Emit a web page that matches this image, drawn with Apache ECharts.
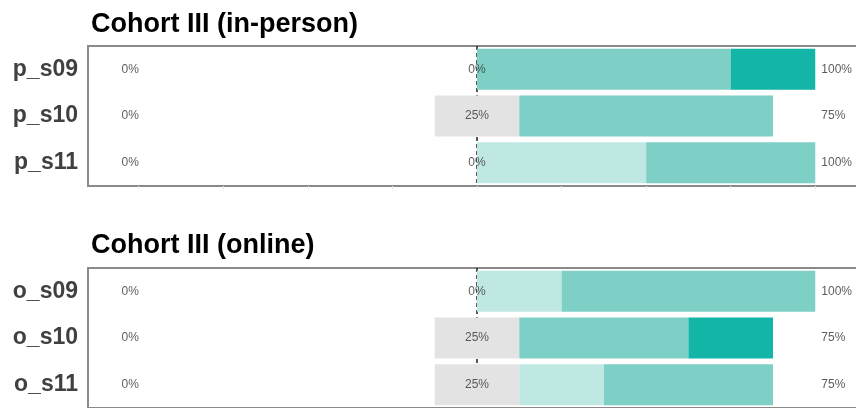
<!DOCTYPE html>
<html>
<head>
<meta charset="utf-8">
<script src="https://cdn.jsdelivr.net/npm/echarts@6/dist/echarts.min.js"></script>
<style>
html,body{margin:0;padding:0;background:#fff;}
#c{width:856px;height:408px;}
</style>
</head>
<body>
<div id="c"></div>
<script>
// ---- data ----
const titles = ['Cohort III (in-person)', 'Cohort III (online)'];
const categories1 = ['p_s09', 'p_s10', 'p_s11'];
const categories2 = ['o_s09', 'o_s10', 'o_s11'];
const levels = ['Disagree', 'Neutral', 'Somewhat agree', 'Agree', 'Strongly agree'];
// panel 1 (in-person), percentages
const disagree1 = [0, 0, 0];
const neutral1 = [0, 25, 0];
const somewhat1 = [0, 0, 50];
const agree1 = [75, 75, 50];
const strong1 = [25, 0, 0];
// panel 2 (online)
const disagree2 = [0, 0, 0];
const neutral2 = [0, 25, 25];
const somewhat2 = [25, 0, 25];
const agree2 = [75, 50, 50];
const strong2 = [0, 25, 0];
const tickValues = [-100, -75, -50, -25, 0, 25, 50, 75, 100];

// ---- styling ----
const COL_NEUTRAL = '#e3e3e3';
const COL_SOME = '#c0e8e3';
const COL_AGREE = '#7ecfc6';
const COL_STRONG = '#13b5a7';
const FONT = 'Liberation Sans, Arial, Helvetica, sans-serif';
const LEFT_LABEL_X = -102.5, RIGHT_LABEL_X = 101.8;

const grids = [
  {left: 88, right: -10, top: 46, height: 140},
  {left: 88, right: -10, top: 268, height: 140}
];

function panel(idx, cats, dis, neu, some, agr, str) {
  const series = [];
  const common = {type: 'bar', xAxisIndex: idx, yAxisIndex: idx, stack: 'p' + idx, barWidth: 41, z: 3, silent: true};
  series.push(Object.assign({}, common, {name: levels[1] + ' L', data: neu.map(v => -v / 2), itemStyle: {color: COL_NEUTRAL}}));
  series.push(Object.assign({}, common, {name: levels[1] + ' R', data: neu.map(v => v / 2), itemStyle: {color: COL_NEUTRAL}}));
  series.push(Object.assign({}, common, {name: levels[2], data: some, itemStyle: {color: COL_SOME}}));
  series.push(Object.assign({}, common, {name: levels[3], data: agr, itemStyle: {color: COL_AGREE}}));
  series.push(Object.assign({}, common, {name: levels[4], data: str, itemStyle: {color: COL_STRONG}}));
  // zero line
  series.push({
    type: 'scatter', xAxisIndex: idx, yAxisIndex: idx, data: [], z: 1, silent: true,
    markLine: {
      z: 1, silent: true, symbol: 'none', label: {show: false},
      lineStyle: {color: '#222', type: [4, 3], width: 1.5},
      data: [{xAxis: 0}]
    }
  });
  const lbl = {show: true, position: 'inside', fontSize: 12, color: '#333', fontFamily: FONT};
  // left (negative) labels
  series.push({
    type: 'scatter', xAxisIndex: idx, yAxisIndex: idx, symbolSize: 0, z: 5, silent: true,
    data: dis.map((v, i) => ({value: [LEFT_LABEL_X, i], label: Object.assign({}, lbl, {formatter: v + '%'})}))
  });
  // neutral labels at centre
  series.push({
    type: 'scatter', xAxisIndex: idx, yAxisIndex: idx, symbolSize: 0, z: 5, silent: true,
    data: neu.map((v, i) => ({value: [0, i], label: Object.assign({}, lbl, {formatter: v + '%'})}))
  });
  // right (positive) labels
  series.push({
    type: 'scatter', xAxisIndex: idx, yAxisIndex: idx, symbolSize: 0, z: 5, silent: true,
    data: some.map((v, i) => ({value: [RIGHT_LABEL_X, i], label: Object.assign({}, lbl, {align: 'left', position: 'right', distance: 0, formatter: (v + agr[i] + str[i]) + '%'})}))
  });
  return series;
}

const xAxes = [0, 1].map(i => ({
  type: 'value', gridIndex: i, min: -115, max: 115,
  axisLine: {show: false},
  axisLabel: {show: false},
  splitLine: {show: false},
  axisTick: {show: true, customValues: tickValues, length: 3, lineStyle: {color: '#e4e4e4'}}
}));
const yAxes = [categories1, categories2].map((cats, i) => ({
  type: 'category', gridIndex: i, data: cats, inverse: true,
  axisLine: {show: false}, axisTick: {show: false}, splitLine: {show: false},
  axisLabel: {fontSize: 23, fontWeight: 'bold', color: '#404040', fontFamily: FONT, margin: 10}
}));

const option = {
  animation: false,
  backgroundColor: '#fff',
  title: [
    {text: titles[0], left: 86, top: 6, textStyle: {fontSize: 27, fontWeight: 'bold', color: '#000', fontFamily: FONT}},
    {text: titles[1], left: 86, top: 227, textStyle: {fontSize: 27, fontWeight: 'bold', color: '#000', fontFamily: FONT}}
  ],
  grid: grids.map(g => Object.assign({show: true, borderColor: '#8a8a8a', borderWidth: 2, backgroundColor: 'transparent', outerBoundsMode: 'none', containLabel: false}, g)),
  xAxis: xAxes,
  yAxis: yAxes,
  series: [].concat(
    panel(0, categories1, disagree1, neutral1, somewhat1, agree1, strong1),
    panel(1, categories2, disagree2, neutral2, somewhat2, agree2, strong2)
  )
};

const chart = echarts.init(document.getElementById('c'), null, {renderer: 'canvas'});
chart.setOption(option);
</script>
</body>
</html>
